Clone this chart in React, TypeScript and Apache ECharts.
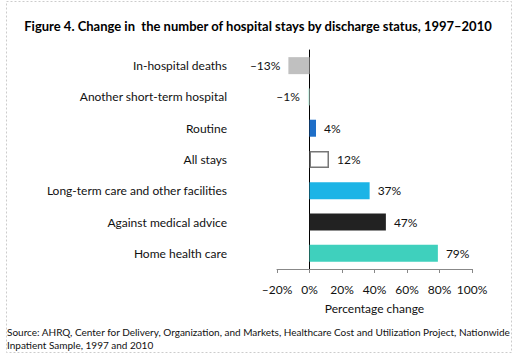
import React, { useEffect, useRef } from "react";
import * as echarts from "echarts";

const categories = [
  "In-hospital deaths",
  "Another short-term hospital",
  "Routine",
  "All stays",
  "Long-term care and other facilities",
  "Against medical advice",
  "Home health care",
];
const values = [-13, -1, 4, 12, 37, 47, 79];
const barColors = ["#c0c0c0", "#d4f5ea", "#1f6fc8", "#ffffff", "#1cb4e6", "#222222", "#3fd0bd"];
const barBorders = ["#c0c0c0", "#a8e0cc", "#1f6fc8", "#777777", "#1cb4e6", "#222222", "#3fd0bd"];
const titleText = "Figure 4. Change in  the number of hospital stays by discharge status, 1997\u20132010";
const sourceLines = [
  "Source: AHRQ, Center for Delivery, Organization, and Markets, Healthcare Cost and Utilization Project, Nationwide",
  "Inpatient Sample, 1997 and 2010",
];

const FONT = "Lato, 'Open Sans', sans-serif";
const fmt = (v: number) => (v < 0 ? "\u2013" + Math.abs(v) : String(v)) + "%";

export default function App() {
  const ref = useRef<HTMLDivElement>(null);
  useEffect(() => {
    if (!ref.current) return;
    const chart = echarts.init(ref.current, null, { renderer: "svg" });
    chart.setOption({
      animation: false,
      backgroundColor: "#ffffff",
      textStyle: { fontFamily: FONT },
      grid: { left: 277, right: 44, top: 50, bottom: 87, containLabel: false },
      xAxis: {
        type: "value",
        min: -20,
        max: 100,
        interval: 20,
        splitLine: { show: false },
        axisLine: { show: true, onZero: false, lineStyle: { color: "#888888", width: 1 } },
        axisTick: { show: true, length: 4, inside: false, lineStyle: { color: "#888888" } },
        axisLabel: { formatter: (v: number) => fmt(v), color: "#111", fontSize: 12, margin: 14, fontFamily: FONT },
        name: "Percentage change",
        nameLocation: "middle",
        nameGap: 33,
        nameTextStyle: { color: "#111", fontSize: 12, fontFamily: FONT },
      },
      yAxis: {
        type: "category",
        data: categories,
        inverse: true,
        axisLine: { show: true, onZero: true, lineStyle: { color: "#000", width: 1 } },
        axisTick: { show: false },
        axisLabel: { color: "#111", fontSize: 12, margin: 50, fontFamily: FONT },
      },
      series: [
        {
          type: "bar",
          barWidth: 17,
          data: values.map((v, i) => ({
            value: v,
            itemStyle: { color: barColors[i], borderColor: barBorders[i], borderWidth: i === 3 ? 1.5 : 0 },
            label: {
              show: true,
              position: v < 0 ? "left" : "right",
              distance: 8,
              formatter: () => fmt(v),
              color: "#111",
              fontSize: 12,
              fontFamily: FONT,
            },
          })),
        },
      ],
      graphic: [
        {
          type: "rect",
          shape: { x: 6.5, y: 1.5, width: 505, height: 351 },
          style: { fill: "none", stroke: "#cccccc", lineWidth: 1, lineDash: [2, 2] },
          silent: true,
        },
        {
          type: "text",
          x: 258,
          y: 26,
          style: {
            text: titleText,
            fill: "#000",
            font: "bold 13px " + FONT,
            textAlign: "center",
            textVerticalAlign: "middle",
          },
        },
        {
          type: "text",
          x: 7,
          y: 332,
          style: { text: sourceLines[0], fill: "#111", font: "10px " + FONT, textVerticalAlign: "middle" },
        },
        {
          type: "text",
          x: 7,
          y: 345,
          style: { text: sourceLines[1], fill: "#111", font: "10px " + FONT, textVerticalAlign: "middle" },
        },
      ],
    });
    return () => chart.dispose();
  }, []);
  return <div ref={ref} style={{ position: "fixed", left: 0, top: 0, width: 516, height: 356 }} />;
}
